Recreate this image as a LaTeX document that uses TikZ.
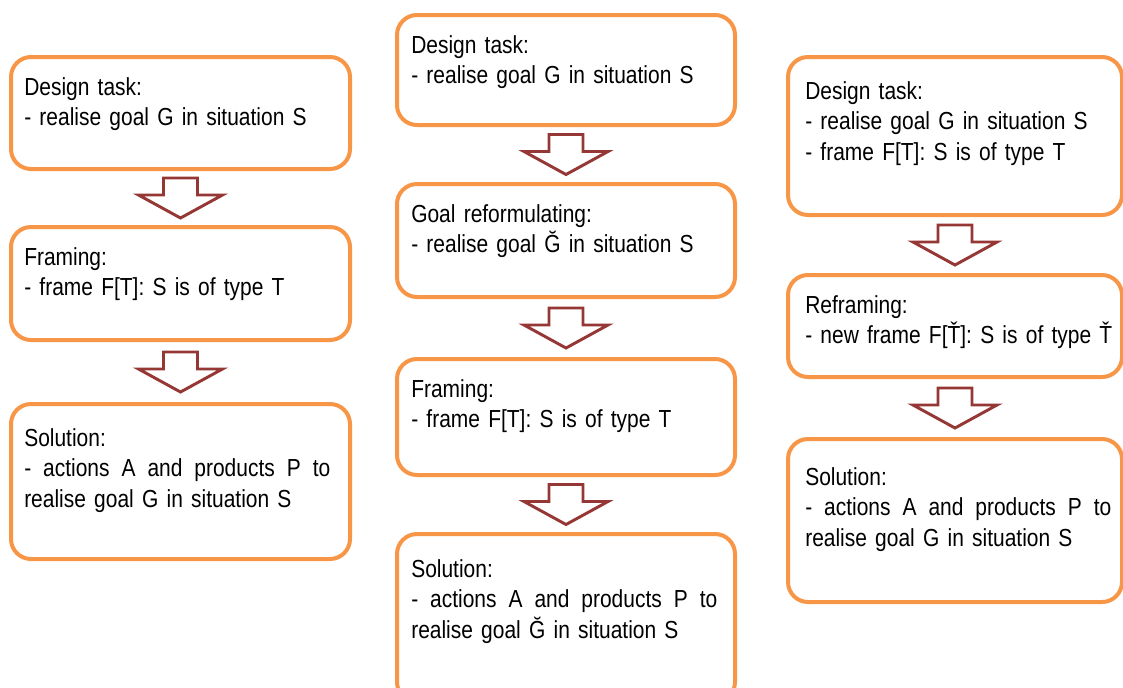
\documentclass[tikz,border=0pt]{standalone}
\usepackage{fontspec}
\setmainfont{Liberation Sans}[FakeStretch=0.85,WordSpace=0.9]
\usetikzlibrary{calc}
\definecolor{boxorange}{RGB}{247,150,70}
\definecolor{arrowred}{RGB}{149,55,53}
\newcommand{\jline}[1]{\leavevmode\hbox to 229.5pt{#1}}
\begin{document}
\begin{tikzpicture}[x=0.75pt,y=-0.75pt,
  box/.style={draw=boxorange, line width=3pt, rounded corners=15pt, fill=white, inner sep=0pt, anchor=north west},
  txt/.style={anchor=base west, inner sep=0pt, text width=255pt, font=\fontsize{18.5}{23}\selectfont},
  blockarrow/.pic={\draw[draw=arrowred, line width=2.2pt, fill=white, line join=miter]
     (-17,-20) -- (17,-20) -- (17,-3) -- (42,-3) -- (0,20) -- (-42,-3) -- (-17,-3) -- cycle;}]
\useasboundingbox (0,0) rectangle (1123,687);
% left column
\node[box, minimum width=254.25pt, minimum height=84pt] (L1) at (9,55) {};
\node[box, minimum width=254.25pt, minimum height=84.75pt] (L2) at (9,225) {};
\node[box, minimum width=254.25pt, minimum height=116.25pt] (L3) at (9,402) {};
% middle column
\node[box, minimum width=253.5pt, minimum height=82.5pt] (M1) at (395,13) {};
\node[box, minimum width=253.5pt, minimum height=84.75pt] (M2) at (395,182) {};
\node[box, minimum width=253.5pt, minimum height=87pt] (M3) at (395,357) {};
\node[box, minimum width=253.5pt, minimum height=126pt] (M4) at (395,532) {};
% right column
\node[box, minimum width=250.5pt, minimum height=118.5pt] (R1) at (786,55) {};
\node[box, minimum width=250.5pt, minimum height=76.5pt] (R2) at (786,273) {};
\node[box, minimum width=250.5pt, minimum height=122.25pt] (R3) at (786,437) {};
% texts
\node[txt] (tL1) at (24,95) {Design task:\\- realise goal G in situation S};
\node[txt] (tL2) at (24,265) {Framing:\\- frame F[T]: S is of type T};
\node[txt] (tL3) at (24,446) {Solution:\\\jline{-\hfill actions\hfill A\hfill and\hfill products\hfill P\hfill to}\\realise goal G in situation S};
\node[txt] (tM1) at (411,53) {Design task:\\- realise goal G in situation S};
\node[txt] (tM2) at (411,222) {Goal reformulating:\\- realise goal Ğ in situation S};
\node[txt] (tM3) at (411,397) {Framing:\\- frame F[T]: S is of type T};
\node[txt] (tM4) at (411,577) {Solution:\\\jline{-\hfill actions\hfill A\hfill and\hfill products\hfill P\hfill to}\\realise goal Ğ in situation S};
\node[txt] (tR1) at (805,99) {Design task:\\- realise goal G in situation S\\- frame F[T]: S is of type T};
\node[txt] (tR2) at (805,313) {Reframing:\\- new frame F[Ť]: S is of type Ť};
\node[txt] (tR3) at (805,485) {Solution:\\\jline{-\hfill actions\hfill A\hfill and\hfill products\hfill P\hfill to}\\realise goal G in situation S};
% block arrows
\path ($(L1.south)!0.5!(L2.north)$) pic {blockarrow};
\path ($(L2.south)!0.5!(L3.north)$) pic {blockarrow};
\path ($(M1.south)!0.5!(M2.north)$) pic {blockarrow};
\path ($(M2.south)!0.5!(M3.north)$) pic {blockarrow};
\path ($(M3.south)!0.5!(M4.north)$) pic {blockarrow};
\path ($(R1.south)!0.5!(R2.north)$) pic {blockarrow};
\path ($(R2.south)!0.5!(R3.north)$) pic {blockarrow};
\end{tikzpicture}
\end{document}
